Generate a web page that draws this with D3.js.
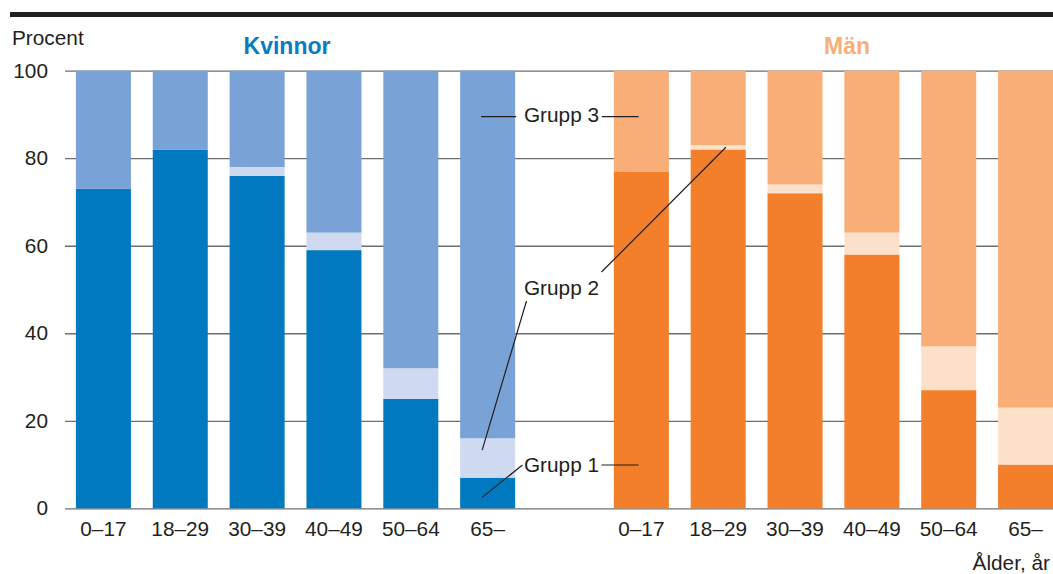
<!DOCTYPE html>
<html>
<head>
<meta charset="utf-8">
<script src="https://cdn.jsdelivr.net/npm/d3@7"></script>
<style>
  body { margin: 0; background: #fff; }
  svg { display: block; font-family: "Liberation Sans", Arial, sans-serif; }
</style>
</head>
<body>
<div id="chart"></div>
<script>
// age groups, same for both sexes
let ages = ["0–17", "18–29", "30–39", "40–49", "50–64", "65–"];
let groups = ["Grupp 1", "Grupp 2", "Grupp 3"];

// percent per age group, women
let womenG1 = [73, 82, 76, 59, 25, 7];
let womenG2 = [0, 0, 2, 4, 7, 9];
let womenG3 = [27, 18, 22, 37, 68, 84];

// percent per age group, men
let menG1 = [77, 82, 72, 58, 27, 10];
let menG2 = [0, 1, 2, 5, 10, 13];
let menG3 = [23, 17, 26, 37, 63, 77];

let yTicks = [0, 20, 40, 60, 80, 100];

let width = 1053, height = 574;
let ink = "#231f20";
let fs = 20.8;

let womenColors = ["#0079c1", "#cfdaf0", "#79a3d6"];
let menColors = ["#f37f2b", "#fde0c9", "#f9ae78"];

// one slot row: women, an empty slot, men
let slots = ages.map(a => "K|" + a).concat(["gap"], ages.map(a => "M|" + a));

let x = d3.scaleBand()
    .domain(slots)
    .range([65, 1064])
    .paddingInner(0.284)
    .paddingOuter(0.142);

let y = d3.scaleLinear()
    .domain([0, 100])
    .range([508.3, 70.7]);

let svg = d3.select("#chart").append("svg")
    .attr("width", width)
    .attr("height", height);

// thick rule on top
svg.append("rect")
    .attr("x", 10).attr("y", 12)
    .attr("width", width - 10).attr("height", 5)
    .attr("fill", ink);

svg.append("text")
    .attr("x", 12).attr("y", 45)
    .attr("font-size", fs)
    .attr("fill", ink)
    .text("Procent");

// gridlines + y labels
let yAxis = svg.append("g").attr("transform", "translate(65,0)")
    .call(d3.axisLeft(y).tickValues(yTicks).tickSize(-(width - 65)).tickPadding(17));
yAxis.select(".domain").remove();
yAxis.selectAll(".tick line").attr("stroke", "#6d6e71").attr("stroke-width", 1.3);
yAxis.selectAll(".tick text")
    .attr("font-size", fs)
    .attr("fill", ink)
    .attr("font-family", "Liberation Sans, Arial, sans-serif");

function stackRows(g1, g2, g3, prefix) {
    return ages.map((a, i) => ({ slot: prefix + a, "Grupp 1": g1[i], "Grupp 2": g2[i], "Grupp 3": g3[i] }));
}

function drawSex(rows, colors) {
    let series = d3.stack().keys(groups)(rows);
    let g = svg.append("g");
    series.forEach((s, si) => {
        g.selectAll(null)
            .data(s)
            .enter()
            .append("rect")
            .attr("x", d => x(d.data.slot))
            .attr("width", x.bandwidth())
            .attr("y", d => y(d[1]))
            .attr("height", d => y(d[0]) - y(d[1]))
            .attr("fill", colors[si]);
    });
}

drawSex(stackRows(womenG1, womenG2, womenG3, "K|"), womenColors);
drawSex(stackRows(menG1, menG2, menG3, "M|"), menColors);

// x labels
svg.selectAll("text.age")
    .data(slots.filter(s => s !== "gap"))
    .enter()
    .append("text")
    .attr("class", "age")
    .attr("x", d => x(d) + x.bandwidth() / 2)
    .attr("y", 536)
    .attr("text-anchor", "middle")
    .attr("font-size", fs)
    .attr("fill", ink)
    .text(d => d.split("|")[1]);

svg.append("text")
    .attr("x", 1050).attr("y", 570)
    .attr("text-anchor", "end")
    .attr("font-size", fs)
    .attr("fill", ink)
    .text("Ålder, år");

// panel titles
svg.append("text")
    .attr("x", 287).attr("y", 54)
    .attr("text-anchor", "middle")
    .attr("font-size", 23).attr("font-weight", "bold")
    .attr("fill", "#0a7cc2")
    .text("Kvinnor");

svg.append("text")
    .attr("x", 847).attr("y", 54)
    .attr("text-anchor", "middle")
    .attr("font-size", 23).attr("font-weight", "bold")
    .attr("fill", "#f9ae78")
    .text("Män");

// group labels in the gap with leader lines into the bars
let midX = x("gap") + x.bandwidth() / 2 - 3;
let labelY = { "Grupp 1": 472, "Grupp 2": 295, "Grupp 3": 122 };

groups.forEach(gname => {
    svg.append("text")
        .attr("x", midX).attr("y", labelY[gname])
        .attr("text-anchor", "middle")
        .attr("font-size", fs)
        .attr("fill", ink)
        .text(gname);
});

let wLast = x("K|65–"), mFirst = x("M|0–17"), mSecond = x("M|18–29"), bw = x.bandwidth();
let leaders = [
    [wLast + bw * 0.38, y(89.5), wLast + bw + 1, y(89.5)],
    [mFirst - 12, y(89.5), mFirst + bw * 0.45, y(89.5)],
    [wLast + bw * 0.4, y(13.3), midX - 35, 301],
    [midX + 40, 272, mSecond + bw * 0.64, y(82.5)],
    [wLast + bw * 0.4, y(2.5), midX - 39, 465],
    [midX + 40, 465, mFirst + bw * 0.45, 465]
];

svg.selectAll("line.leader")
    .data(leaders)
    .enter()
    .append("line")
    .attr("class", "leader")
    .attr("x1", d => d[0]).attr("y1", d => d[1])
    .attr("x2", d => d[2]).attr("y2", d => d[3])
    .attr("stroke", ink)
    .attr("stroke-width", 1.2);
</script>
</body>
</html>
